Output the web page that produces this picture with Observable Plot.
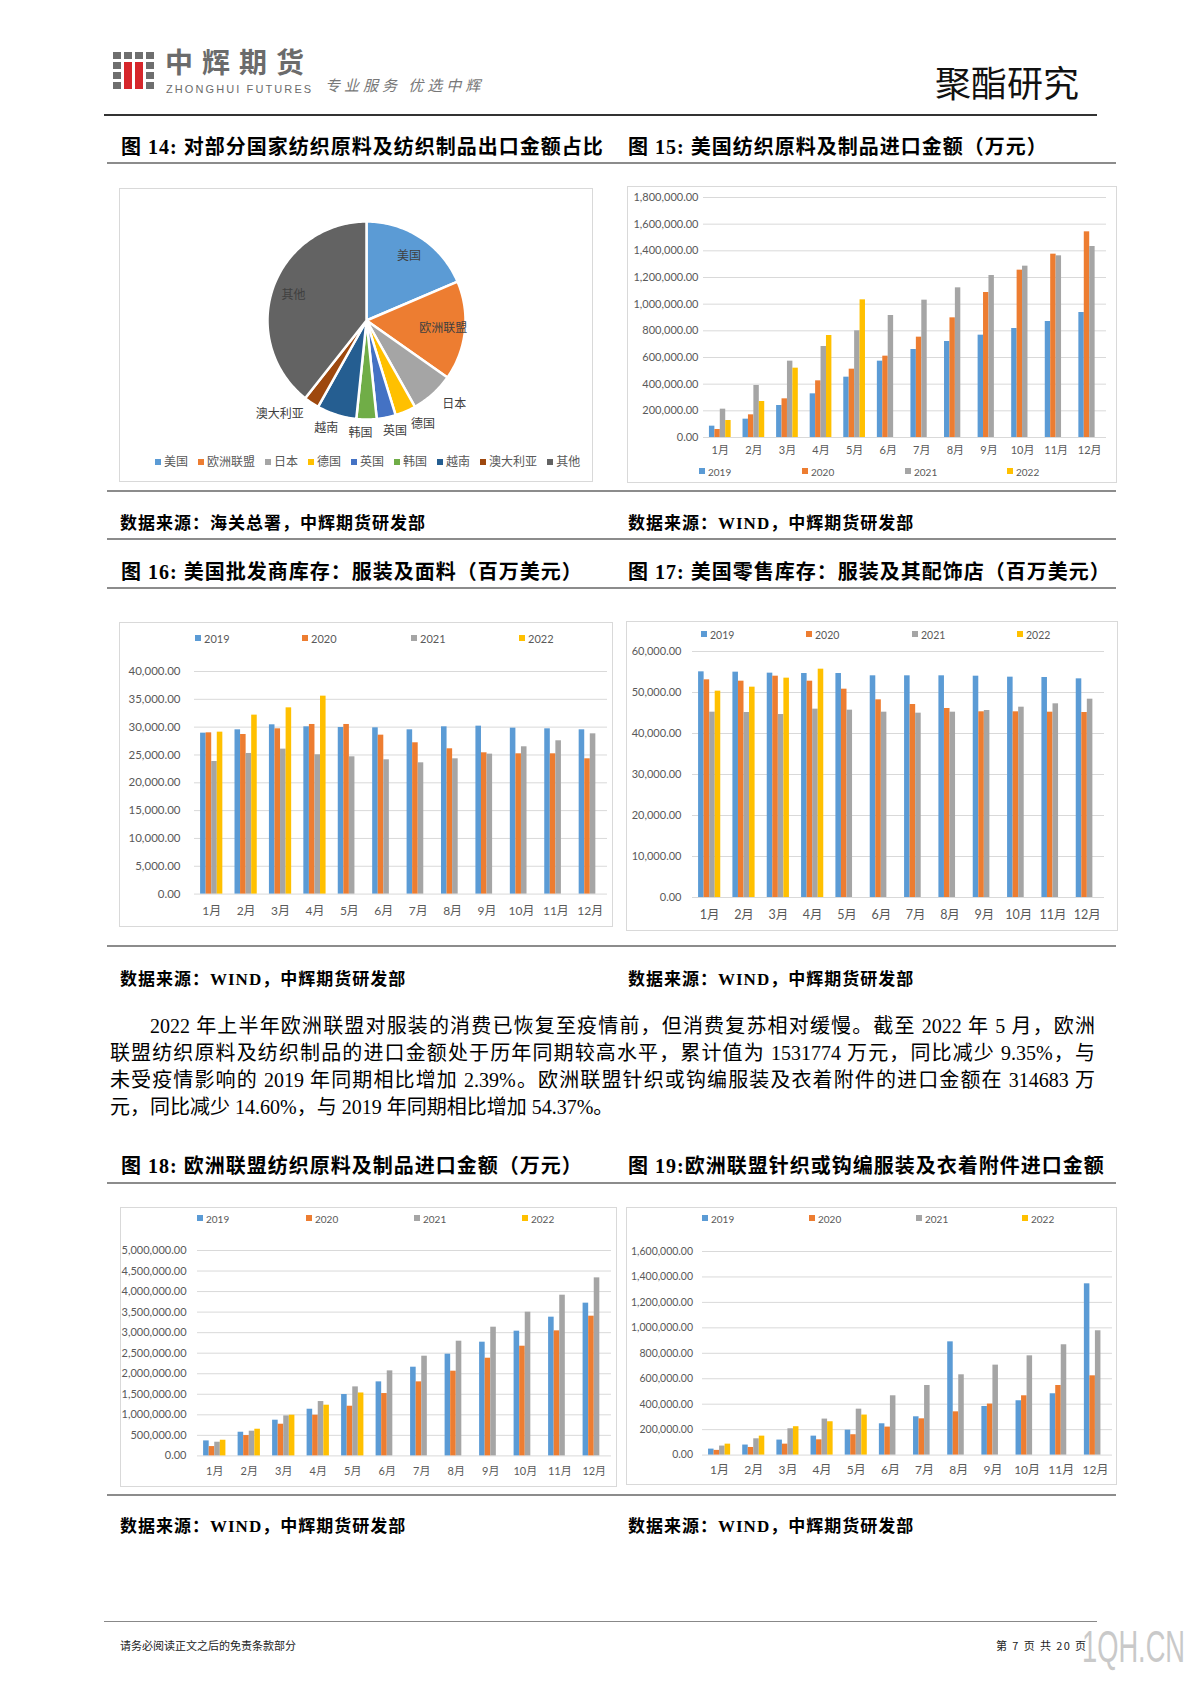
<!DOCTYPE html>
<html><head><meta charset="utf-8">
<script src="https://cdn.jsdelivr.net/npm/d3@7"></script>
<script src="https://cdn.jsdelivr.net/npm/@observablehq/plot@0.6"></script>
<style>
body{margin:0;background:#fff;}
#page{position:relative;width:1190px;height:1683px;background:#fff;overflow:hidden;font-family:"Liberation Serif","Noto Sans CJK SC",serif;color:#000;}
.abs{position:absolute;white-space:nowrap;}
.rule{position:absolute;height:0;border-top:2px solid #8c8c8c;}
.title{position:absolute;white-space:nowrap;font-weight:700;font-size:20px;letter-spacing:1px;line-height:24px;}
.src{position:absolute;white-space:nowrap;font-weight:700;font-size:17px;letter-spacing:1px;line-height:22px;}
.box{position:absolute;border:1px solid #d9d9d9;box-sizing:border-box;}
.lg{position:absolute;white-space:nowrap;font-family:Lato,"Noto Sans CJK SC",sans-serif;color:#595959;line-height:16px;}
.para{position:absolute;font-size:20px;line-height:27px;white-space:nowrap;}
.just{text-align:justify;text-align-last:justify;white-space:normal;}
svg{overflow:visible;}
</style></head>
<body><div id="page">
  <!-- header -->
  <div id="logoicon" class="abs" style="left:113px;top:52px;"></div>
  <div class="abs" style="left:165px;top:41px;font-family:'Noto Sans CJK SC';font-weight:700;font-size:28px;letter-spacing:9px;color:#6b6b6b;line-height:41px;">中辉期货</div>
  <div class="abs" style="left:166px;top:83px;font-family:'Liberation Sans';font-size:11px;letter-spacing:2.1px;color:#6b6b6b;line-height:12px;">ZHONGHUI FUTURES</div>
  <div class="abs" style="left:325px;top:75px;font-family:'Noto Sans CJK SC';font-style:italic;font-size:15px;letter-spacing:4px;color:#777;line-height:20px;">专业服务&nbsp;优选中辉</div>
  <div class="abs" style="left:935px;top:58px;font-family:'Noto Sans CJK SC';font-size:36px;line-height:46px;color:#111;">聚酯研究</div>
  <div class="rule" style="left:104px;width:993px;top:114px;border-top:2px solid #333;"></div>

  <!-- row 1 -->
  <div class="title" style="left:121px;top:135px;">图 14: 对部分国家纺织原料及纺织制品出口金额占比</div>
  <div class="title" style="left:628px;top:135px;">图 15: 美国纺织原料及制品进口金额（万元）</div>
  <div class="rule" style="left:107px;width:1009px;top:162px;"></div>
  <div class="box" style="left:119px;top:188px;width:474px;height:294px;"></div>
  <div class="box" style="left:627px;top:186px;width:490px;height:297px;"></div>
  <div class="rule" style="left:107px;width:1009px;top:490px;"></div>
  <div class="src" style="left:120px;top:513px;">数据来源：海关总署，中辉期货研发部</div>
  <div class="src" style="left:628px;top:513px;">数据来源：WIND，中辉期货研发部</div>
  <div class="rule" style="left:107px;width:1009px;top:538px;"></div>

  <!-- row 2 -->
  <div class="title" style="left:121px;top:560px;">图 16: 美国批发商库存：服装及面料（百万美元）</div>
  <div class="title" style="left:628px;top:560px;">图 17: 美国零售库存：服装及其配饰店（百万美元）</div>
  <div class="rule" style="left:107px;width:1009px;top:587px;"></div>
  <div class="box" style="left:119px;top:622px;width:494px;height:305px;"></div>
  <div class="box" style="left:626px;top:621px;width:492px;height:310px;"></div>
  <div class="rule" style="left:107px;width:1009px;top:945px;"></div>
  <div class="src" style="left:120px;top:969px;">数据来源：WIND，中辉期货研发部</div>
  <div class="src" style="left:628px;top:969px;">数据来源：WIND，中辉期货研发部</div>

  <!-- paragraph -->
  <div class="para just" style="left:150px;width:945px;top:1013px;">2022 年上半年欧洲联盟对服装的消费已恢复至疫情前，但消费复苏相对缓慢。截至 2022 年 5 月，欧洲</div>
  <div class="para just" style="left:110px;width:985px;top:1040px;">联盟纺织原料及纺织制品的进口金额处于历年同期较高水平，累计值为 1531774 万元，同比减少 9.35%，与</div>
  <div class="para just" style="left:110px;width:985px;top:1067px;">未受疫情影响的 2019 年同期相比增加 2.39%。欧洲联盟针织或钩编服装及衣着附件的进口金额在 314683 万</div>
  <div class="para" style="left:110px;top:1094px;">元，同比减少 14.60%，与 2019 年同期相比增加 54.37%。</div>

  <!-- row 3 -->
  <div class="title" style="left:121px;top:1154px;">图 18: 欧洲联盟纺织原料及制品进口金额（万元）</div>
  <div class="title" style="left:628px;top:1154px;">图 19:欧洲联盟针织或钩编服装及衣着附件进口金额</div>
  <div class="rule" style="left:107px;width:1009px;top:1182px;"></div>
  <div class="box" style="left:120px;top:1207px;width:497px;height:280px;"></div>
  <div class="box" style="left:626px;top:1207px;width:491px;height:278px;"></div>
  <div class="rule" style="left:107px;width:1009px;top:1494px;"></div>
  <div class="src" style="left:120px;top:1516px;">数据来源：WIND，中辉期货研发部</div>
  <div class="src" style="left:628px;top:1516px;">数据来源：WIND，中辉期货研发部</div>

  <!-- footer -->
  <div class="rule" style="left:104px;width:993px;top:1621px;border-top:1px solid #888;"></div>
  <div class="abs" style="left:120px;top:1638px;font-family:'Noto Sans CJK SC';font-size:11px;line-height:14px;color:#222;">请务必阅读正文之后的免责条款部分</div>
  <div class="abs" style="left:996px;top:1638px;font-family:'Noto Sans CJK SC';font-size:11px;letter-spacing:1.4px;line-height:14px;color:#222;">第 7 页 共 20 页</div>
  <div class="abs" style="left:1082px;top:1624px;font-family:'Liberation Sans';font-size:44px;line-height:46px;color:#c9c9c9;transform:scaleX(0.62);transform-origin:left top;">1QH.CN</div>
</div>
<script>
// ---------- data ----------
const months = ["1月","2月","3月","4月","5月","6月","7月","8月","9月","10月","11月","12月"];
const years = ["2019","2020","2021","2022"];
const yearColors = ["#5B9BD5","#ED7D31","#A5A5A5","#FFC000"];

// 图14 出口金额占比 (%)
const pieCountries = ["美国","欧洲联盟","日本","德国","英国","韩国","越南","澳大利亚","其他"];
const pieShares = [18.6,16.2,7.1,3.4,3.1,3.3,6.5,2.5,39.4];
const pieColors = ["#5B9BD5","#ED7D31","#A5A5A5","#FFC000","#4472C4","#70AD47","#255E91","#9E480E","#636363"];

// 图15 美国纺织原料及制品进口金额（万元）
const usTextileImport2019 = [85000,137500,240000,327500,452500,572500,660000,720000,767500,817500,870000,937500];
const usTextileImport2020 = [60000,170000,290000,425000,512500,610000,752500,897500,1087500,1255000,1375000,1542500];
const usTextileImport2021 = [212500,390000,572500,682500,800000,915000,1030000,1122500,1215000,1285000,1362500,1432500];
const usTextileImport2022 = [127500,270000,520000,765000,1032500];
const usTextileTicks = [0,200000,400000,600000,800000,1000000,1200000,1400000,1600000,1800000];

// 图16 美国批发商库存：服装及面料（百万美元）
const usWholesale2019 = [28920,29520,30420,30060,29940,29880,29520,30060,30180,29820,29700,29520];
const usWholesale2020 = [28980,28680,29700,30480,30480,28560,27190,26110,25390,25210,25210,24310];
const usWholesale2021 = [23830,25270,26050,25030,24670,24130,23590,24310,25150,26470,27550,28800];
const usWholesale2022 = [29100,32160,33470,35570];
const usWholesaleTicks = [0,5000,10000,15000,20000,25000,30000,35000,40000];

// 图17 美国零售库存：服装及其配饰店（百万美元）
const usRetail2019 = [55040,54960,54720,54630,54630,54070,54070,54070,53980,53740,53660,53330];
const usRetail2020 = [53090,52760,53980,52760,50810,48210,47070,46100,45290,45290,45200,45120];
const usRetail2021 = [45200,45120,44630,45940,45690,45200,44960,45200,45610,46420,47240,48370];
const usRetail2022 = [50330,51300,53500,55690];
const usRetailTicks = [0,10000,20000,30000,40000,50000,60000];

// 图18 欧洲联盟纺织原料及制品进口金额（万元）
const euTextileImport2019 = [365000,576000,869000,1136000,1494000,1802000,2159000,2476000,2768000,3036000,3377000,3718000];
const euTextileImport2020 = [227000,495000,771000,990000,1209000,1518000,1802000,2062000,2378000,2670000,3044000,3401000];
const euTextileImport2021 = [333000,601000,974000,1323000,1680000,2070000,2427000,2792000,3133000,3498000,3912000,4334000];
const euTextileImport2022 = [381000,649000,990000,1234000,1531774];
const euTextileTicks = [0,500000,1000000,1500000,2000000,2500000,3000000,3500000,4000000,4500000,5000000];

// 图19 欧洲联盟针织或钩编服装及衣着附件进口金额
const euKnitImport2019 = [47000,79000,118000,149000,196000,246000,301000,890000,382000,427000,482000,1346000];
const euKnitImport2020 = [37000,60000,86000,120000,160000,220000,285000,340000,401000,466000,547000,623000];
const euKnitImport2021 = [71000,128000,207000,283000,361000,466000,547000,631000,707000,780000,867000,977000];
const euKnitImport2022 = [86000,149000,223000,262000,314683];
const euKnitTicks = [0,200000,400000,600000,800000,1000000,1200000,1400000,1600000];

// ---------- helpers ----------
const page = document.getElementById("page");
const chartFont = "Lato, 'Noto Sans CJK SC', sans-serif";

// logo icon
(function(){
  const icon = document.getElementById("logoicon");
  for (let r = 0; r < 4; r++) for (let c = 0; c < 4; c++) {
    const d = document.createElement("div");
    const red = r > 0 && (c === 1 || c === 2);
    d.style.cssText = `position:absolute;left:${c*11}px;top:${r*10}px;width:8px;height:${red && r<3 ? 10 : 7}px;background:${red ? "#d6262b" : "#6e6e6e"};`;
    icon.appendChild(d);
  }
})();

const gapWidth = 2.19; // Excel default gap width 219%
const barW = 1 / (years.length + gapWidth);

function buildRows(series) {
  const rows = [];
  series.forEach((vals, s) => {
    vals.forEach((v, i) => {
      const x1 = (i + 1) + (s - years.length / 2) * barW;
      rows.push({month: i + 1, year: years[s], value: v, x1, x2: x1 + barW});
    });
  });
  return rows;
}

function barChart({series, ticks, frame, fontY, fontX, padY, padX}) {
  const mL = 100, mR = 10, mT = 14, mB = 34;
  const svg = Plot.plot({
    width: frame.r - frame.l + mL + mR,
    height: frame.b - frame.t + mT + mB,
    marginLeft: mL, marginRight: mR, marginTop: mT, marginBottom: mB,
    x: {domain: [0.5, months.length + 0.5]},
    y: {domain: [0, ticks[ticks.length - 1]]},
    color: {domain: years, range: yearColors},
    style: {background: "transparent", fontFamily: chartFont, color: "#595959", overflow: "visible"},
    marks: [
      Plot.gridY(ticks, {stroke: "#d9d9d9", strokeOpacity: 1, strokeWidth: 1}),
      Plot.rectY(buildRows(series), {x1: "x1", x2: "x2", y1: 0, y2: "value", fill: "year"}),
      Plot.axisY(ticks, {tickSize: 0, tickPadding: padY, tickFormat: d3.format(",.2f"), fontSize: fontY, label: null}),
      Plot.axisX(d3.range(1, months.length + 1), {tickSize: 0, tickPadding: padX, tickFormat: d => months[d - 1], fontSize: fontX, label: null})
    ]
  });
  svg.style.position = "absolute";
  svg.style.left = (frame.l - mL) + "px";
  svg.style.top = (frame.t - mT) + "px";
  page.appendChild(svg);
}

function yearLegend(xs, cy, fontSize, sq) {
  years.forEach((yr, i) => {
    const d = document.createElement("div");
    d.className = "lg";
    d.style.left = xs[i] + "px";
    d.style.top = (cy - 8) + "px";
    d.style.fontSize = fontSize + "px";
    d.innerHTML = `<span style="display:inline-block;width:${sq}px;height:${sq}px;background:${yearColors[i]};margin-right:3px;vertical-align:middle;position:relative;top:-1px"></span><span style="vertical-align:middle">${yr}</span>`;
    page.appendChild(d);
  });
}

// ---------- 图14 pie ----------
(function(){
  const cx = 366, cy = 320, r = 99;
  const mL = 150, mR = 130, mT = 40, mB = 40;
  const arcs = d3.pie().sort(null).value(d => d)(pieShares);
  const slicePts = [];
  arcs.forEach((a, i) => {
    const name = pieCountries[i];
    slicePts.push({name, x: 0, y: 0});
    const n = Math.max(2, Math.ceil((a.endAngle - a.startAngle) / 0.02));
    for (let k = 0; k <= n; k++) {
      const t = a.startAngle + (a.endAngle - a.startAngle) * k / n;
      slicePts.push({name, x: Math.sin(t), y: Math.cos(t)});
    }
    slicePts.push({name, x: 0, y: 0});
  });
  // label placement from slice mid-angles: large slices inside, small slices outside
  const labels = arcs.map((a, i) => {
    const m = (a.startAngle + a.endAngle) / 2;
    const inside = pieShares[i] > 10;
    const rr = inside ? 0.78 : 1.14;
    const s = Math.sin(m);
    let anchor, side = 0;
    if (inside) anchor = "middle";
    else if (s > 0.35) anchor = "start";
    else if (s < -0.35) anchor = "end";
    else { anchor = "middle"; side = s > 0.05 ? 1 : -1; }
    return {name: pieCountries[i], x: s * rr, y: Math.cos(m) * rr, anchor, side};
  });
  const txt = (anchor, side, dx) => Plot.text(labels.filter(d => d.anchor === anchor && d.side === side),
    {x: "x", y: "y", text: "name", textAnchor: anchor, dx, fill: "#404040", fontSize: 12});
  const svg = Plot.plot({
    width: mL + 2 * r + mR, height: mT + 2 * r + mB,
    marginLeft: mL, marginRight: mR, marginTop: mT, marginBottom: mB,
    x: {domain: [-1, 1], axis: null},
    y: {domain: [-1, 1], axis: null},
    color: {domain: pieCountries, range: pieColors},
    style: {background: "transparent", fontFamily: chartFont, overflow: "visible"},
    marks: [
      Plot.line(slicePts, {x: "x", y: "y", z: "name", fill: "name", stroke: "white", strokeWidth: 2.5, strokeLinejoin: "round"}),
      txt("start", 0, 0), txt("end", 0, 0), txt("middle", 0, 0), txt("middle", 1, 6), txt("middle", -1, -6)
    ]
  });
  svg.style.position = "absolute";
  svg.style.left = (cx - r - mL) + "px";
  svg.style.top = (cy - r - mT) + "px";
  page.appendChild(svg);

  const lg = document.createElement("div");
  lg.className = "lg";
  lg.style.cssText += "left:155px;top:454px;font-size:12px;display:flex;gap:10px;";
  lg.innerHTML = pieCountries.map((c, i) =>
    `<span><span style="display:inline-block;width:6px;height:6px;background:${pieColors[i]};margin-right:3px;vertical-align:middle;position:relative;top:-1px"></span>${c}</span>`).join("");
  page.appendChild(lg);
})();

// ---------- 图15 ----------
barChart({series: [usTextileImport2019, usTextileImport2020, usTextileImport2021, usTextileImport2022],
  ticks: usTextileTicks, frame: {l: 703, r: 1106, t: 197.3, b: 437.3}, fontY: 11, fontX: 11, padY: 5, padX: 8.5});
yearLegend([699, 802, 905, 1007], 471, 10, 6);

// ---------- 图16 ----------
barChart({series: [usWholesale2019, usWholesale2020, usWholesale2021, usWholesale2022],
  ticks: usWholesaleTicks, frame: {l: 194, r: 607, t: 670.7, b: 893.3}, fontY: 11.5, fontX: 12, padY: 14, padX: 12.5});
yearLegend([195, 302, 411, 519], 638, 11, 6);

// ---------- 图17 ----------
barChart({series: [usRetail2019, usRetail2020, usRetail2021, usRetail2022],
  ticks: usRetailTicks, frame: {l: 692, r: 1104, t: 651.3, b: 897.3}, fontY: 11, fontX: 12.5, padY: 11, padX: 12.3});
yearLegend([701, 806, 912, 1017], 634, 10.5, 6);

// ---------- 图18 ----------
barChart({series: [euTextileImport2019, euTextileImport2020, euTextileImport2021, euTextileImport2022],
  ticks: euTextileTicks, frame: {l: 197, r: 611, t: 1250.3, b: 1455.7}, fontY: 11, fontX: 11, padY: 11, padX: 11});
yearLegend([197, 306, 414, 522], 1218, 10, 6);

// ---------- 图19 ----------
barChart({series: [euKnitImport2019, euKnitImport2020, euKnitImport2021, euKnitImport2022],
  ticks: euKnitTicks, frame: {l: 702, r: 1112, t: 1250.7, b: 1454.3}, fontY: 10.5, fontX: 12, padY: 9.5, padX: 10.8});
yearLegend([702, 809, 916, 1022], 1218, 10, 6);
</script>
</body></html>
